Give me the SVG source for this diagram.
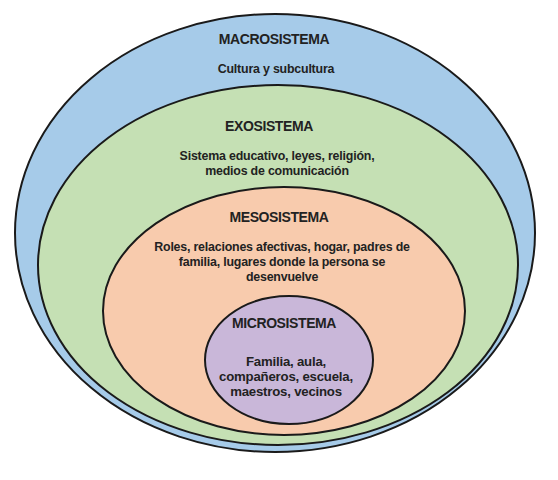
<svg xmlns="http://www.w3.org/2000/svg" width="558" height="480" viewBox="0 0 558 480">
<style>
.ring{stroke:#1a1a1a;stroke-width:2}
.t{font-family:"Liberation Sans",Arial,sans-serif;font-weight:bold;fill:#222222;text-anchor:middle}
.h{font-size:14px;letter-spacing:-0.4px}
.b{font-size:12.4px;letter-spacing:-0.2px}
.m{font-size:13.2px;letter-spacing:-0.2px}
</style>
<rect width="558" height="480" fill="#ffffff"/>
<g id="macrosistema">
<ellipse class="ring" cx="275" cy="233" rx="260" ry="219" fill="#a6cbe9"/>
<text class="t h" x="274" y="44">MACROSISTEMA</text>
<text class="t b" x="276" y="73">Cultura y subcultura</text>
</g>
<g id="exosistema">
<ellipse class="ring" cx="278" cy="265" rx="240" ry="180" fill="#c5e0b4"/>
<text class="t h" x="269" y="131">EXOSISTEMA</text>
<text class="t b" x="277" y="160">Sistema educativo, leyes, religión,</text>
<text class="t b" x="277" y="175">medios de comunicación</text>
</g>
<g id="mesosistema">
<ellipse class="ring" cx="284" cy="311" rx="181" ry="124" fill="#f8cbad"/>
<text class="t h" x="279" y="222">MESOSISTEMA</text>
<text class="t b" x="282" y="251">Roles, relaciones afectivas, hogar, padres de</text>
<text class="t b" x="282" y="266">familia, lugares donde la persona se</text>
<text class="t b" x="282" y="281">desenvuelve</text>
</g>
<g id="microsistema">
<ellipse class="ring" cx="289" cy="360" rx="84" ry="64" fill="#c9b7d9"/>
<text class="t h" x="284" y="328">MICROSISTEMA</text>
<text class="t m" x="286" y="366">Familia, aula,</text>
<text class="t m" x="286" y="381">compañeros, escuela,</text>
<text class="t m" x="286" y="396">maestros, vecinos</text>
</g>
<g id="connectors"></g>
</svg>
